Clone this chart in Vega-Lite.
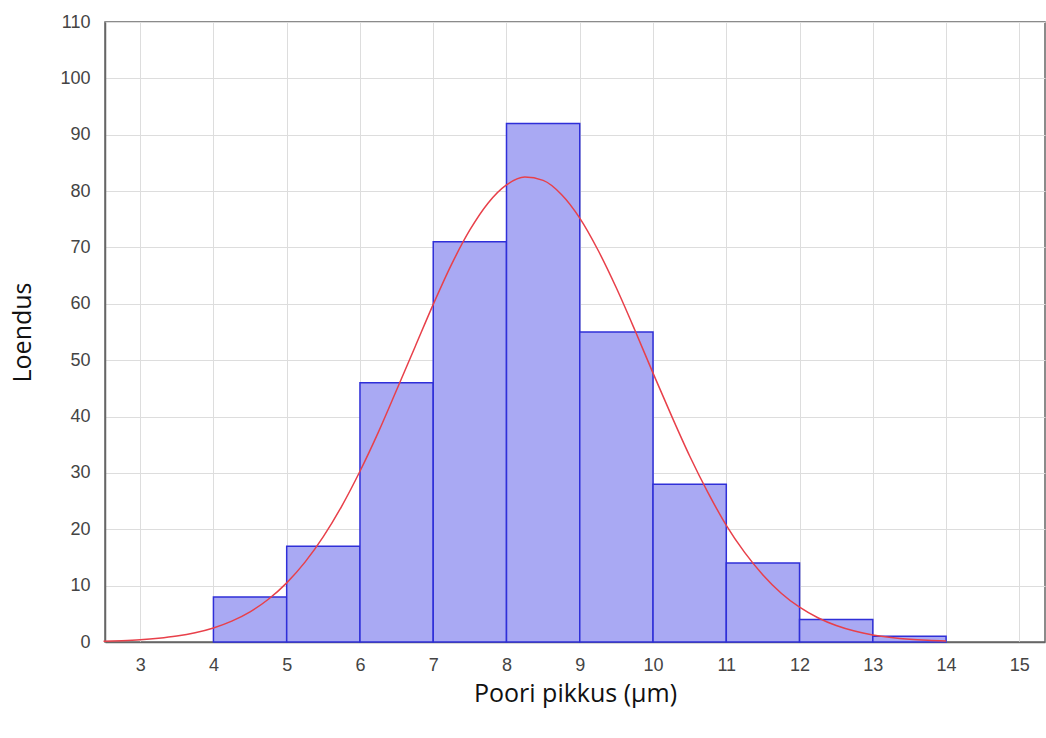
{
  "$schema": "https://vega.github.io/schema/vega-lite/v6.json",
  "autosize": "none",
  "width": 940,
  "height": 620,
  "padding": {"left": 105, "top": 22, "right": 1, "bottom": 96},
  "background": "white",
  "config": {
    "view": {"stroke": "#666666", "strokeWidth": 1.5, "fill": "white"},
    "axis": {"labelFont": "Liberation Sans", "labelFontSize": 18, "labelColor": "#444444", "gridColor": "#dddddd", "gridWidth": 1, "domainColor": "#666666", "domainWidth": 1.5, "tickColor": "#666666", "titleFont": "Open Sans", "titleFontSize": 25, "titleFontWeight": "normal", "titleColor": "#111111"}
  },
  "datasets": {
    "bins": [
      {"start": 4, "end": 5, "count": 8},
      {"start": 5, "end": 6, "count": 17},
      {"start": 6, "end": 7, "count": 46},
      {"start": 7, "end": 8, "count": 71},
      {"start": 8, "end": 9, "count": 92},
      {"start": 9, "end": 10, "count": 55},
      {"start": 10, "end": 11, "count": 28},
      {"start": 11, "end": 12, "count": 14},
      {"start": 12, "end": 13, "count": 4},
      {"start": 13, "end": 14, "count": 1}
    ],
    "curve": [
      {"x": 2.5, "y": 0.14}, {"x": 2.75, "y": 0.24}, {"x": 3.0, "y": 0.40}, {"x": 3.25, "y": 0.66},
      {"x": 3.5, "y": 1.05}, {"x": 3.75, "y": 1.64}, {"x": 4.0, "y": 2.49}, {"x": 4.25, "y": 3.70},
      {"x": 4.5, "y": 5.35}, {"x": 4.75, "y": 7.58}, {"x": 5.0, "y": 10.49}, {"x": 5.25, "y": 14.17},
      {"x": 5.5, "y": 18.69}, {"x": 5.75, "y": 24.08}, {"x": 6.0, "y": 30.3}, {"x": 6.25, "y": 37.2},
      {"x": 6.5, "y": 44.7}, {"x": 6.75, "y": 52.3}, {"x": 7.0, "y": 59.9}, {"x": 7.25, "y": 67.0},
      {"x": 7.5, "y": 73.1}, {"x": 7.75, "y": 77.9}, {"x": 8.0, "y": 81.1}, {"x": 8.25, "y": 82.5},
      {"x": 8.5, "y": 81.9}, {"x": 8.75, "y": 79.4}, {"x": 9.0, "y": 75.2}, {"x": 9.25, "y": 69.5},
      {"x": 9.5, "y": 62.8}, {"x": 9.75, "y": 55.4}, {"x": 10.0, "y": 47.7}, {"x": 10.25, "y": 40.2},
      {"x": 10.5, "y": 33.0}, {"x": 10.75, "y": 26.5}, {"x": 11.0, "y": 20.7}, {"x": 11.25, "y": 15.9},
      {"x": 11.5, "y": 11.9}, {"x": 11.75, "y": 8.66}, {"x": 12.0, "y": 6.17}, {"x": 12.25, "y": 4.30},
      {"x": 12.5, "y": 2.92}, {"x": 12.75, "y": 1.94}, {"x": 13.0, "y": 1.26}, {"x": 13.25, "y": 0.80},
      {"x": 13.5, "y": 0.49}, {"x": 13.75, "y": 0.30}, {"x": 14.0, "y": 0.18}
    ]
  },
  "layer": [
    {
      "data": {"name": "bins"},
      "mark": {"type": "rect", "fill": "#a9a9f3", "stroke": "#2f2fd8", "strokeWidth": 1.5},
      "encoding": {
        "x": {"field": "start", "type": "quantitative",
          "scale": {"domain": [2.52, 15.35], "nice": false, "zero": false},
          "axis": {"values": [3,4,5,6,7,8,9,10,11,12,13,14,15], "format": "d", "title": "Poori pikkus (µm)", "titleY": 51, "titleBaseline": "middle", "labelPadding": 14, "tickSize": 0, "grid": true}},
        "x2": {"field": "end"},
        "y": {"field": "count", "type": "quantitative",
          "scale": {"domain": [0, 110], "nice": false},
          "axis": {"values": [0,10,20,30,40,50,60,70,80,90,100,110], "format": "d", "title": "Loendus", "titleX": -83, "titleY": 310, "titleBaseline": "middle", "titleAngle": -90, "labelPadding": 15, "tickSize": 0, "grid": true}},
        "y2": {"datum": 0}
      }
    },
    {
      "data": {"name": "curve"},
      "mark": {"type": "line", "color": "#e8404a", "strokeWidth": 1.5, "interpolate": "monotone"},
      "encoding": {
        "x": {"field": "x", "type": "quantitative"},
        "y": {"field": "y", "type": "quantitative"}
      }
    }
  ]
}
